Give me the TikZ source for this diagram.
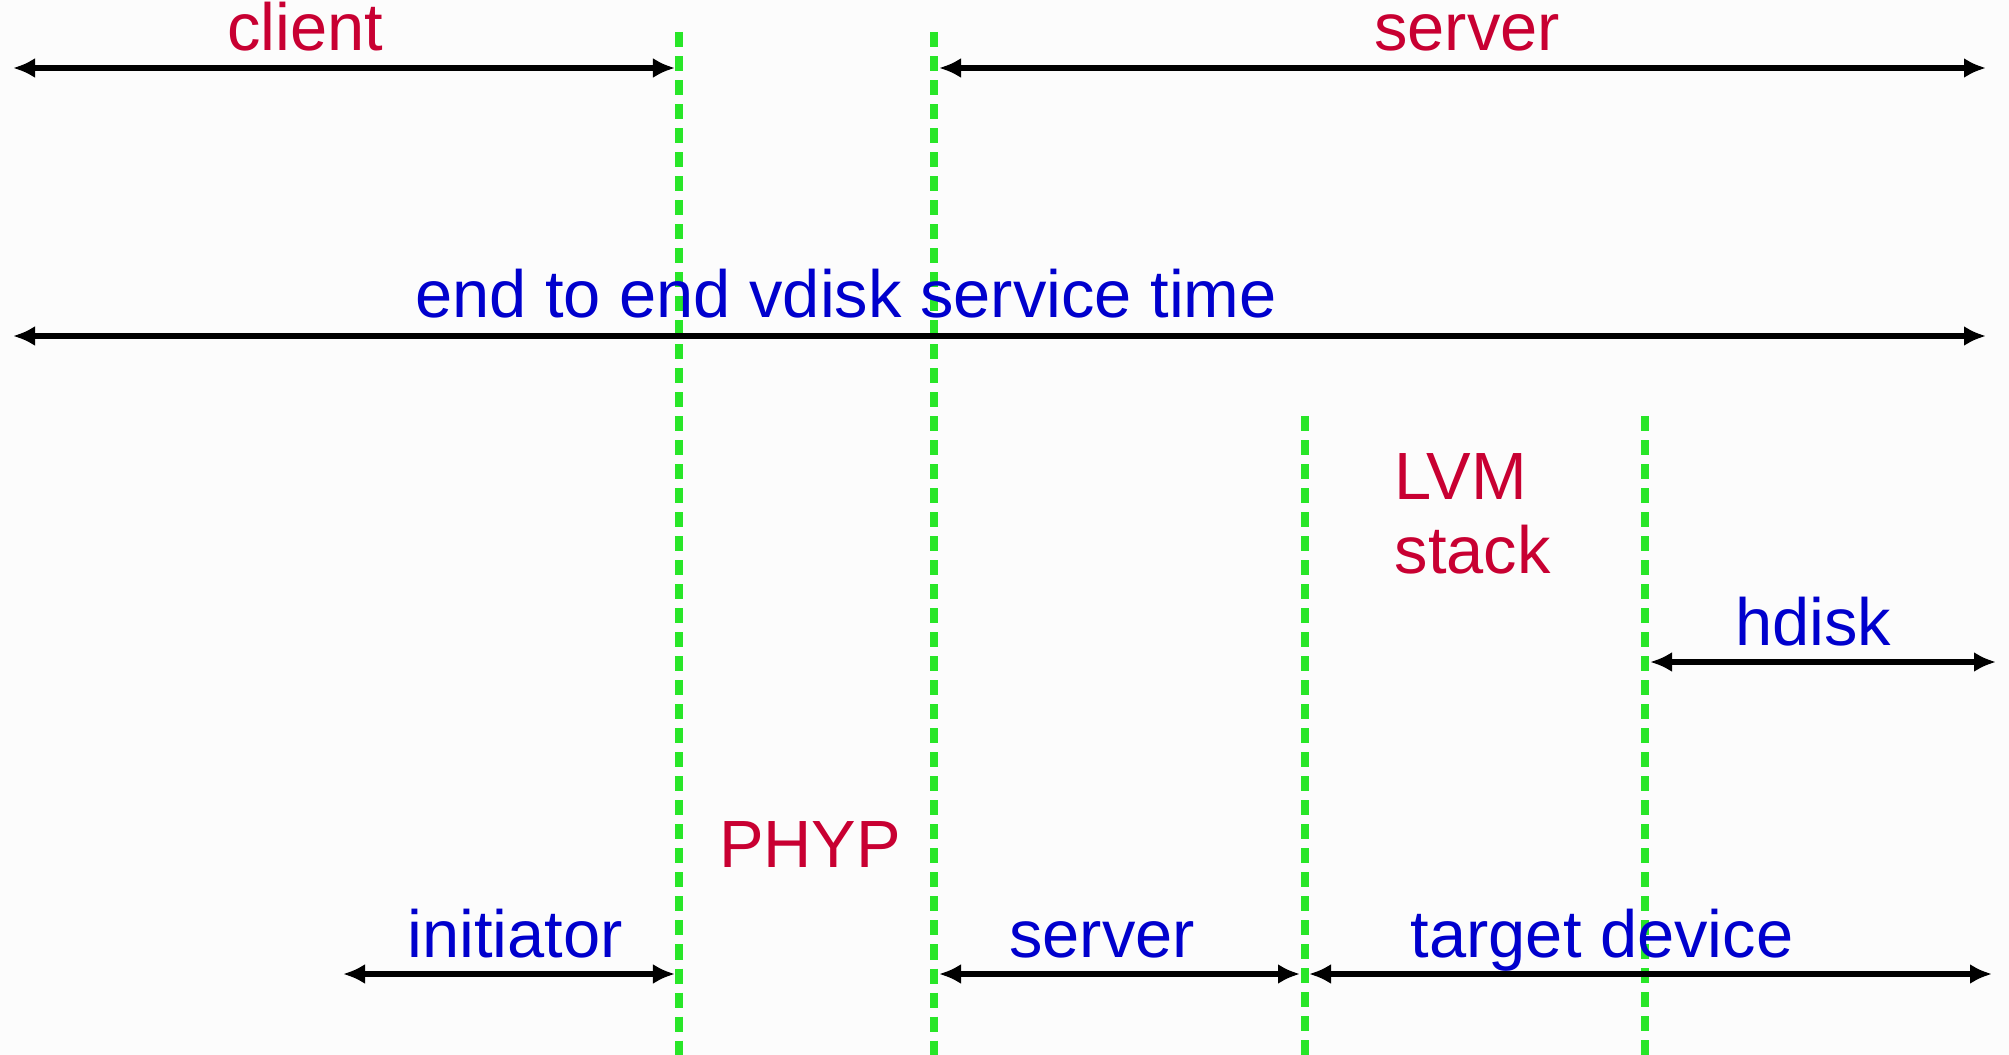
\documentclass[tikz,border=0pt]{standalone}
\usepackage{fontspec}
\setmainfont{Liberation Sans}
\usetikzlibrary{arrows.meta,positioning}
\definecolor{colRouge}{RGB}{200,0,50}
\definecolor{colBleu}{RGB}{0,0,205}
\definecolor{colVert}{RGB}{40,230,40}
\definecolor{colFond}{RGB}{252,252,252}

\begin{document}
\begin{tikzpicture}[x=0.01cm, y=-0.01cm,
    font=\fontsize{19}{23}\selectfont,
    lim/.style={colVert, line width=0.08cm, dash pattern=on 0.15cm off 0.09cm},
    fl/.style={{Latex[length=0.22cm,width=0.2cm]}-{Latex[length=0.22cm,width=0.2cm]},
      line width=0.065cm},
    tr/.style={text=colRouge, inner sep=0pt, anchor=base},
    tb/.style={text=colBleu, inner sep=0pt, anchor=base}]
    \useasboundingbox (0,0) rectangle (2009,1055);
    \fill[colFond] (0,0) rectangle (2009,1055);
    % dashed boundaries
    \draw[lim] (679,32) coordinate (c1) -- (679,1055) coordinate (c1b);
    \draw[lim] (934,32) coordinate (c2) -- (934,1055) coordinate (c2b);
    \draw[lim] (1305,416) coordinate (c3) -- (1305,1055) coordinate (c3b);
    \draw[lim] (1645,416) coordinate (c4) -- (1645,1055) coordinate (c4b);
    % arrow ends
    \coordinate (g1) at (13,68);   \coordinate (d1) at (675,68);
    \coordinate (g2) at (939,68);  \coordinate (d2) at (1986,68);
    \coordinate (g3) at (13,336);  \coordinate (d3) at (1986,336);
    \coordinate (g4) at (1650,662); \coordinate (d4) at (1996,662);
    \coordinate (g5) at (343,974); \coordinate (d5) at (675,974);
    \coordinate (g6) at (939,974); \coordinate (d6) at (1300,974);
    \coordinate (g7) at (1309,974); \coordinate (d7) at (1992,974);
    \draw[fl] (g1)--(d1);
    \draw[fl] (g2)--(d2);
    \draw[fl] (g3)--(d3);
    \draw[fl] (g4)--(d4);
    \draw[fl] (g5)--(d5);
    \draw[fl] (g6)--(d6);
    \draw[fl] (g7)--(d7);
    % labels
    \node[tr] (client) at (305,51) {client};
    \node[tr] (serveur) at (1467,51) {server};
    \node[tb] (total) at (846,318) {end to end vdisk service time};
    \node[tr, anchor=base west] (lvm) at (1394,500) {LVM};
    \node[tr, anchor=base west] (pile) at (1394,573) {stack};
    \node[tb] (hdisk) at (1813,645) {hdisk};
    \node[tr] (phyp) at (810,867) {PHYP};
    \node[tb] (init) at (515,957) {initiator};
    \node[tb] (srv) at (1102,957) {server};
    \node[tb] (cible) at (1602,957) {target device};
\end{tikzpicture}
\end{document}
